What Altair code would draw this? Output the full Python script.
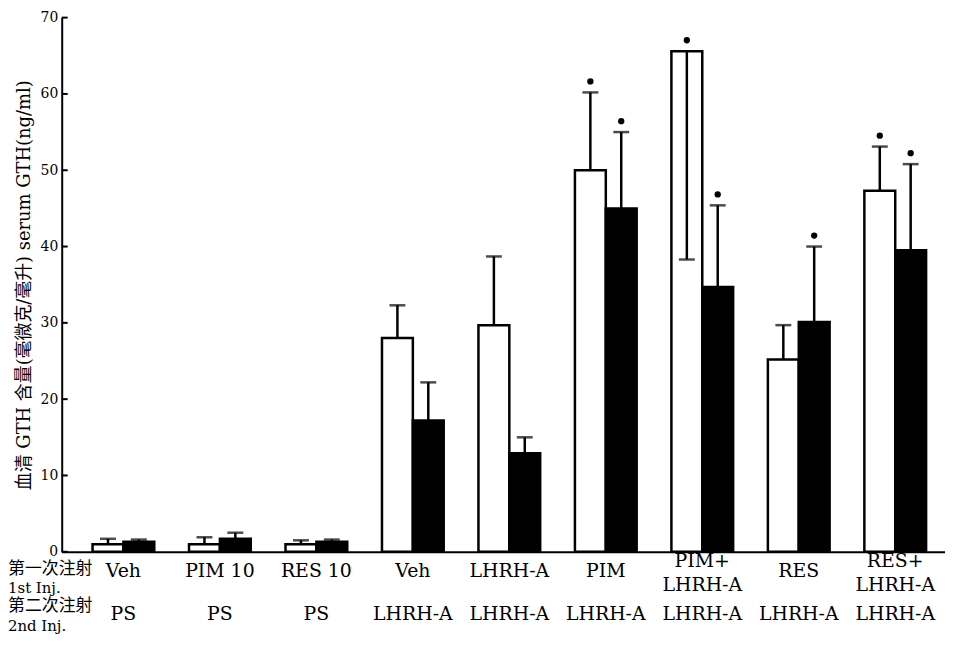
import altair as alt
import pandas as pd

# ---------------- data ----------------
group_ids = [str(i) for i in range(9)]
first_inj = ["Veh", "PIM 10", "RES 10", "Veh", "LHRH-A", "PIM", "PIM+\nLHRH-A", "RES", "RES+\nLHRH-A"]
second_inj = ["PS", "PS", "PS", "LHRH-A", "LHRH-A", "LHRH-A", "LHRH-A", "LHRH-A", "LHRH-A"]

white_mean = [1.0, 1.0, 1.0, 28.0, 29.7, 50.0, 65.6, 25.2, 47.3]
white_err_end = [1.7, 1.9, 1.5, 32.3, 38.7, 60.2, 38.3, 29.7, 53.1]
black_mean = [1.3, 1.7, 1.3, 17.2, 12.9, 45.0, 34.7, 30.1, 39.5]
black_err_end = [1.6, 2.5, 1.6, 22.2, 15.0, 55.0, 45.4, 40.0, 50.8]
white_star = [0, 0, 0, 0, 0, 1, 1, 0, 1]
black_star = [0, 0, 0, 0, 0, 1, 1, 1, 1]

y_ticks = [0, 10, 20, 30, 40, 50, 60, 70]
y_title = "血清 GTH 含量(毫微克/毫升)   serum GTH(ng/ml)"
header_1 = ["第一次注射", "1st Inj."]
header_2 = ["第二次注射", "2nd Inj."]

rows = []
for i, g in enumerate(group_ids):
    rows.append(dict(group=g, series="white", mean=white_mean[i], err=white_err_end[i], star=white_star[i]))
    rows.append(dict(group=g, series="black", mean=black_mean[i], err=black_err_end[i], star=black_star[i]))
df = pd.DataFrame(rows)
df["top"] = df[["mean", "err"]].max(axis=1)
star_df = df[df["star"] == 1]

label_df = pd.DataFrame({"group": group_ids, "first": first_inj, "second": second_inj})
multi = label_df["first"].str.contains("\n")
single_df = label_df[~multi]
multi_df = label_df[multi]
tick_df = pd.DataFrame({"t": y_ticks})

# ---------------- styles ----------------
W, H = 888, 537
SERIF = "DejaVu Serif, Noto Sans CJK SC"

x_enc = alt.X(
    "group:N",
    scale=alt.Scale(domain=group_ids, paddingInner=0.36, paddingOuter=0.2577, align=0.62),
    axis=alt.Axis(labels=False, ticks=False, title=None, domainWidth=2, domainColor="black", grid=False),
)
xo_enc = alt.XOffset("series:N", scale=alt.Scale(domain=["white", "black"], paddingInner=0, paddingOuter=0))
y_scale = alt.Scale(domain=[0, 70], nice=False)
y_axis = alt.Axis(
    values=y_ticks, ticks=False, grid=False, domainWidth=2, domainColor="black",
    labelFont="DejaVu Serif", labelFontSize=14, labelColor="black", labelPadding=4,
    titleFont=SERIF, titleFontSize=18, titleFontWeight="normal", titleColor="black", titlePadding=7,
)


def Y(field):
    return alt.Y(field, scale=y_scale, axis=y_axis, title=y_title)


base = alt.Chart(df)

bars = base.mark_bar(stroke="black", strokeWidth=2.5).encode(
    x=x_enc, xOffset=xo_enc, y=Y("mean:Q"),
    color=alt.Color("series:N", scale=alt.Scale(domain=["white", "black"], range=["white", "black"]), legend=None),
)
err = base.mark_rule(color="black", strokeWidth=2.5).encode(
    x=x_enc, xOffset=xo_enc, y=Y("mean:Q"), y2="err:Q"
)
caps = base.mark_tick(color="black", size=16, thickness=2.5, orient="horizontal").encode(
    x=x_enc, xOffset=xo_enc, y=Y("err:Q")
)
stars = alt.Chart(star_df).mark_point(shape="circle", filled=True, size=40, color="black", opacity=1, yOffset=-11).encode(
    x=x_enc, xOffset=xo_enc, y=Y("top:Q")
)
yticks = alt.Chart(tick_df).mark_rule(color="black", strokeWidth=2).encode(
    y=Y("t:Q"), x=alt.value(0), x2=alt.value(6)
)

lab1s = alt.Chart(single_df).mark_text(
    font=SERIF, fontSize=19, color="black", baseline="middle"
).encode(x=x_enc, y=alt.value(H + 19), text="first:N")
lab1m = alt.Chart(multi_df).mark_text(
    font=SERIF, fontSize=19, color="black", baseline="middle", lineBreak="\n", lineHeight=24
).encode(x=x_enc, y=alt.value(H + 9), text="first:N")
lab2 = alt.Chart(label_df).mark_text(
    font=SERIF, fontSize=19, color="black", baseline="middle"
).encode(x=x_enc, y=alt.value(H + 63), text="second:N")

one = pd.DataFrame({"a": [0]})
hdr = []
for txt, yy, fs in zip(header_1 + header_2, [H + 17, H + 36, H + 55, H + 75], [17, 15, 17, 15]):
    hdr.append(
        alt.Chart(one).mark_text(
            text=txt, font=SERIF, fontSize=fs, color="black", align="left", baseline="middle"
        ).encode(x=alt.value(-54), y=alt.value(yy))
    )

chart = alt.layer(bars, err, caps, stars, yticks, lab1s, lab1m, lab2, *hdr).properties(
    width=W, height=H,
    autosize=alt.AutoSizeParams(type="none"),
    padding={"left": 54, "top": 8, "right": 0, "bottom": 82},
    background="white",
).configure_view(stroke=None)

chart.save("out.html", embed_options={"renderer": "svg", "actions": False})
